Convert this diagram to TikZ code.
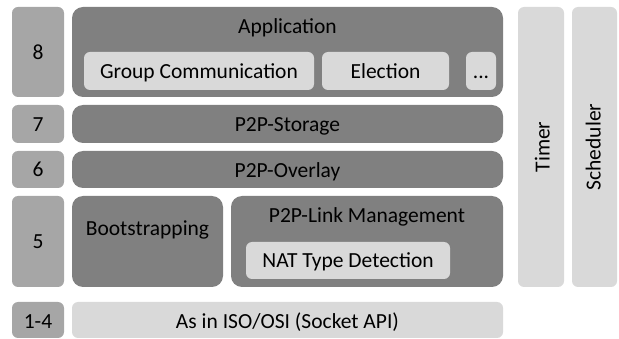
\documentclass[tikz,border=0pt]{standalone}
\usepackage{fontspec}
\setmainfont{Carlito}
\definecolor{numgray}{HTML}{A6A6A6}
\definecolor{layergray}{HTML}{808080}
\definecolor{lightgray}{HTML}{D9D9D9}
\begin{document}
\begin{tikzpicture}[x=1pt,y=-1pt,
  blk/.style={anchor=north west, inner sep=0pt, outer sep=0pt, draw=none},
  numbox/.style={blk, fill=numgray, rounded corners=6pt},
  layerbox/.style={blk, fill=layergray, rounded corners=11pt},
  subbox/.style={blk, fill=lightgray, rounded corners=6pt},
  txt/.style={inner sep=0pt, anchor=base, font=\fontsize{21.5}{25}\selectfont, text=black}]
\useasboundingbox (0,0) rectangle (619,339);

% layer numbers
\node[numbox, minimum width=52pt, minimum height=90pt] (n8) at (12,7) {};
\node[numbox, minimum width=52pt, minimum height=38pt] (n7) at (12,105) {};
\node[numbox, minimum width=52pt, minimum height=37pt] (n6) at (12,151) {};
\node[numbox, minimum width=52pt, minimum height=91pt] (n5) at (12,196) {};
\node[numbox, minimum width=52pt, minimum height=36pt] (n1) at (12,302) {};
\node[txt] (t8) at (38,60) {8};
\node[txt] (t7) at (38,131.7) {7};
\node[txt] (t6) at (38,177) {6};
\node[txt] (t5) at (38,248.3) {5};
\node[txt] (t1) at (38,328) {1-4};

% layer 8: application
\node[layerbox, minimum width=431pt, minimum height=90pt] (app) at (72,7) {};
\node[txt] (tapp) at (287.5,34) {Application};
\node[subbox, minimum width=230pt, minimum height=38pt] (gc) at (84,52) {};
\node[txt] (tgc) at (199,78.3) {Group Communication};
\node[subbox, minimum width=127pt, minimum height=38pt] (el) at (322,52) {};
\node[txt] (tel) at (385.5,78.3) {Election};
\node[subbox, minimum width=30pt, minimum height=38pt] (dots) at (466,52) {};
\node[txt] (tdots) at (481,78.3) {...};

% layers 7 and 6
\node[layerbox, minimum width=431pt, minimum height=38pt] (st) at (72,105) {};
\node[txt] (tst) at (287.5,131.7) {P2P-Storage};
\node[layerbox, minimum width=431pt, minimum height=37pt] (ov) at (72,151) {};
\node[txt] (tov) at (287.5,177.7) {P2P-Overlay};

% layer 5
\node[layerbox, minimum width=151pt, minimum height=91pt] (bs) at (72,196) {};
\node[txt] (tbs) at (147.5,236) {Bootstrapping};
\node[layerbox, minimum width=272pt, minimum height=91pt] (lm) at (231,196) {};
\node[txt] (tlm) at (367,222.7) {P2P-Link Management};
\node[subbox, minimum width=204pt, minimum height=37pt] (nat) at (246,242) {};
\node[txt] (tnat) at (348,268) {NAT Type Detection};

% layers 1-4
\node[subbox, minimum width=431pt, minimum height=36pt] (osi) at (72,302) {};
\node[txt] (tosi) at (287.5,328) {As in ISO/OSI (Socket API)};

% cross-layer services
\node[subbox, minimum width=46pt, minimum height=280pt] (tm) at (518,7) {};
\node[txt, rotate=90] (ttm) at (549.5,147) {Timer};
\node[subbox, minimum width=45pt, minimum height=280pt] (sc) at (572,7) {};
\node[txt, rotate=90] (tsc) at (600.5,147) {Scheduler};
\end{tikzpicture}
\end{document}
